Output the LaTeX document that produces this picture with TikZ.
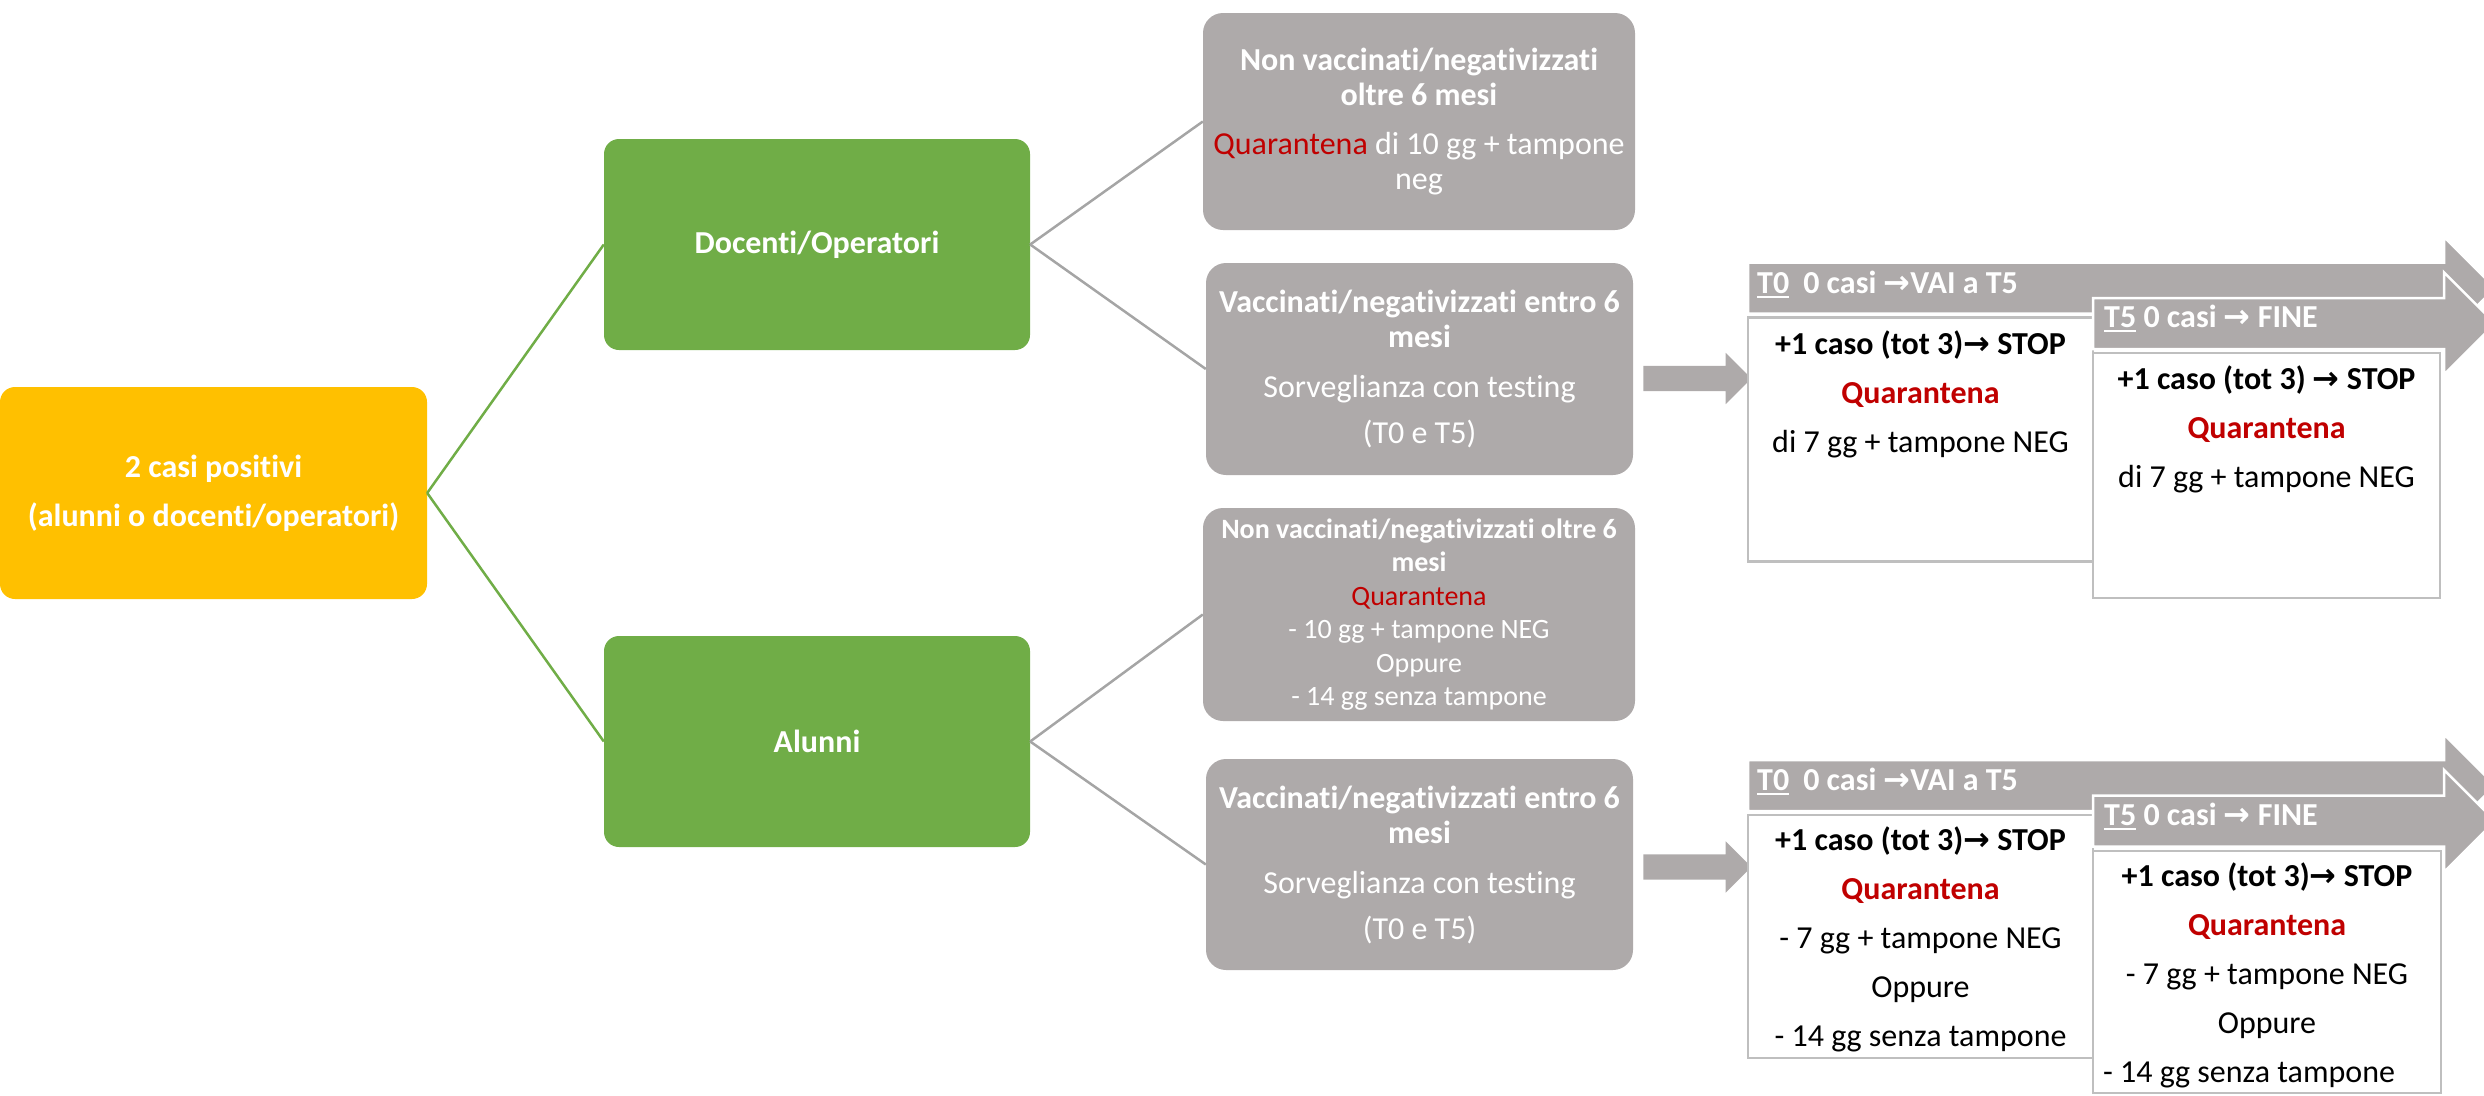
\documentclass[tikz,border=0pt]{standalone}
\usepackage{fontspec}
\setmainfont{Carlito}[Ligatures=NoCommon]
\newfontfamily\arrowfont{DejaVu Sans}
\usetikzlibrary{shapes.arrows}
\definecolor{boxgray}{HTML}{AEAAAA}
\definecolor{lgreen}{HTML}{70AD47}
\definecolor{gold}{HTML}{FFC000}
\definecolor{qred}{HTML}{C00000}
\definecolor{linegray}{HTML}{A5A5A5}
\definecolor{bordergray}{HTML}{BFBFBF}
\newcommand{\rarr}{{\arrowfont\bfseries\char"2192}}
\newcommand{\myul}[1]{\setbox0\hbox{#1}\rlap{\rule[-5pt]{\wd0}{2.5pt}}\box0\relax}
\begin{document}
\begin{tikzpicture}[x=1pt,y=-1pt,
  graybox/.style={rectangle, rounded corners=20pt, fill=boxgray, text=white, align=center, inner sep=0pt},
  greenbox/.style={rectangle, rounded corners=15pt, fill=lgreen, text=white, align=center, inner sep=0pt,
    font=\bfseries\fontsize{32}{36}\selectfont, minimum width=426pt, minimum height=211pt},
  yellowbox/.style={rectangle, rounded corners=15pt, fill=gold, text=white, align=center, inner sep=0pt,
    font=\bfseries\fontsize{32}{36}\selectfont},
  whitebox/.style={rectangle, fill=white, draw=bordergray, line width=2.5pt, inner sep=0pt},
  boxtext/.style={anchor=base, align=center, inner sep=0pt, text=black, font=\fontsize{32}{49}\selectfont},
  headtext/.style={anchor=base west, inner sep=0pt, text=white, font=\bfseries\fontsize{32}{36}\selectfont},
  bigarrow/.style={fill=boxgray, draw=white, line width=2.5pt},
  smallarrow/.style={single arrow, fill=boxgray, minimum height=108pt, single arrow head extend=13pt,
    inner xsep=0pt, inner ysep=12.5pt},
  greenline/.style={draw=lgreen, line width=2.5pt},
  grayline/.style={draw=linegray, line width=2.5pt}
]
\useasboundingbox (0,0) rectangle (2484,1095);
\clip (0,0) rectangle (2484,1095);

% left part
\node[yellowbox, minimum width=427pt, minimum height=212pt] (pos) at (213.5,493)
  {2 casi positivi\\[13pt](alunni o docenti/operatori)};
\node[greenbox] (doc) at (817,244.5) {Docenti/Operatori};
\node[greenbox] (alu) at (817,741.5) {Alunni};

% grey boxes
\node[graybox, font=\fontsize{32}{35}\selectfont, minimum width=432pt, minimum height=217pt] (nvd) at (1419,121.5)
  {\textbf{Non vaccinati/negativizzati}\\\textbf{oltre 6 mesi}\\[14pt]\textcolor{qred}{Quarantena} di 10 gg + tampone\\neg};
\node[graybox, font=\fontsize{32}{35}\selectfont, minimum width=427pt, minimum height=212pt] (vd) at (1419.5,369)
  {\textbf{Vaccinati/negativizzati entro 6}\\\textbf{mesi}\\[15pt]Sorveglianza con testing\\[11pt](T0 e T5)};
\node[graybox, font=\fontsize{28}{33.5}\selectfont, minimum width=432pt, minimum height=213pt] (nva) at (1419,614.5)
  {\textbf{Non vaccinati/negativizzati oltre 6}\\\textbf{mesi}\\\textcolor{qred}{Quarantena}\\- 10 gg + tampone NEG\\Oppure\\- 14 gg senza tampone};
\node[graybox, font=\fontsize{32}{35}\selectfont, minimum width=427pt, minimum height=211pt] (va) at (1419.5,864.5)
  {\textbf{Vaccinati/negativizzati entro 6}\\\textbf{mesi}\\[15pt]Sorveglianza con testing\\[11pt](T0 e T5)};

% connectors
\draw[greenline] (pos.east) -- (doc.west);
\draw[greenline] (pos.east) -- (alu.west);
\draw[grayline] (doc.east) -- (nvd.west);
\draw[grayline] (doc.east) -- (vd.west);
\draw[grayline] (alu.east) -- (nva.west);
\draw[grayline] (alu.east) -- (va.west);

% small arrows
\node[smallarrow] (sa1) at (1691,378.5) {};
\node[smallarrow] (sa2) at (1691,867) {};

% ---------- top process ----------
\filldraw[bigarrow] (1748,262.5) -- (2444,262.5) -- (2444,237) -- (2495,288) -- (2444,339) -- (2444,313.5) -- (1748,313.5) -- cycle;
\node[whitebox, minimum width=345pt, minimum height=244pt] (w0a) at (1920.5,439.5) {};
\filldraw[bigarrow] (2093,298) -- (2444,298) -- (2444,272.5) -- (2495,323.5) -- (2444,374.5) -- (2444,349) -- (2093,349) -- cycle;
\node[whitebox, minimum width=347pt, minimum height=245pt] (w5a) at (2266.5,475.5) {};
\node[headtext] (h0a) at (1757,293) {\myul{T0}\hspace{14pt}0 casi \rarr VAI a T5};
\node[headtext] (h5a) at (2104,327) {\myul{T5} 0 casi \rarr{} FINE};
\node[boxtext] (t0a) at (1920.5,452)
  {\textbf{+1 caso (tot 3)\rarr{} STOP}\\\textcolor{qred}{\textbf{Quarantena}}\\di 7 gg + tampone NEG};
\node[boxtext] (t5a) at (2266.5,487)
  {\textbf{+1 caso (tot 3) \rarr{} STOP}\\\textcolor{qred}{\textbf{Quarantena}}\\di 7 gg + tampone NEG};

% ---------- bottom process ----------
\filldraw[bigarrow] (1748,760) -- (2444,760) -- (2444,734.5) -- (2495,785.5) -- (2444,836.5) -- (2444,811) -- (1748,811) -- cycle;
\node[whitebox, minimum width=345pt, minimum height=243pt] (w0b) at (1920.5,936.5) {};
\filldraw[bigarrow] (2093,795.5) -- (2444,795.5) -- (2444,770) -- (2495,821) -- (2444,872) -- (2444,846.5) -- (2093,846.5) -- cycle;
\node[whitebox, minimum width=348pt, minimum height=242pt] (w5b) at (2267,972) {};
\node[headtext] (h0b) at (1757,790) {\myul{T0}\hspace{14pt}0 casi \rarr VAI a T5};
\node[headtext] (h5b) at (2104,825) {\myul{T5} 0 casi \rarr{} FINE};
\node[boxtext] (t0b) at (1920.5,1046)
  {\textbf{+1 caso (tot 3)\rarr{} STOP}\\\textcolor{qred}{\textbf{Quarantena}}\\- 7 gg + tampone NEG\\Oppure\\- 14 gg senza tampone};
\node[boxtext] (t5b) at (2267,1082.5)
  {\textbf{+1 caso (tot 3)\rarr{} STOP}\\\textcolor{qred}{\textbf{Quarantena}}\\- 7 gg + tampone NEG\\Oppure\\- 14 gg senza tampone\hspace*{36pt}};
\end{tikzpicture}
\end{document}
